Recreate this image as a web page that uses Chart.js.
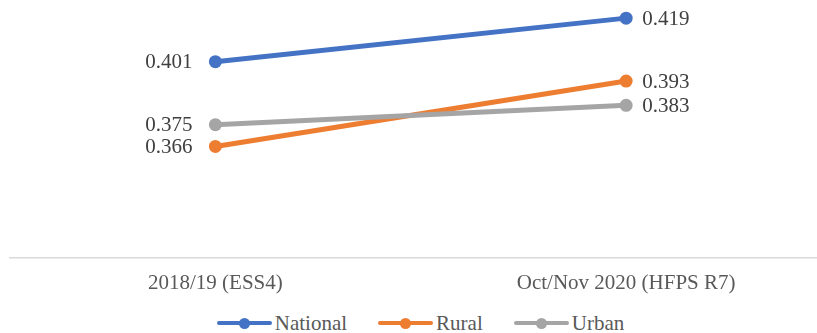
<!DOCTYPE html>
<html>
<head>
<meta charset="utf-8">
<script src="https://cdn.jsdelivr.net/npm/chart.js@4/dist/chart.umd.min.js"></script>
<style>
    html, body { margin: 0; padding: 0; background: #fff; overflow: hidden; }
    #wrap { position: absolute; left: -17px; top: -15px; width: 855px; height: 316px; }
    #legend {
        position: absolute; left: 0; top: 310px; width: 841px; height: 26px;
        display: flex; justify-content: center; align-items: center; gap: 31px;
        font-family: 'Liberation Serif', 'Times New Roman', serif;
        font-size: 21px; line-height: 26px; color: #595959;
    }
    .item { display: flex; align-items: center; }
    .swatch { position: relative; width: 55px; height: 4px; border-radius: 2px; margin-right: 3px; }
    .dot { position: absolute; left: 22px; top: -3.5px; width: 11px; height: 11px; border-radius: 50%; }
</style>
</head>
<body>
<div id="wrap"><canvas id="chart"></canvas></div>
<div id="legend"></div>
<script>
// rounds and headline values
const rounds = ["2018/19 (ESS4)", "Oct/Nov 2020 (HFPS R7)"];
const national = [0.401, 0.419];
const rural = [0.366, 0.393];
const urban = [0.375, 0.383];

const serif = "'Liberation Serif', 'Times New Roman', serif";
Chart.defaults.font.family = serif;

// value labels: left of the first point, right of the last one
const valueLabels = {
    id: "valueLabels",
    afterDatasetsDraw: function (chart) {
        let ctx = chart.ctx;
        ctx.save();
        ctx.font = "21px " + serif;
        ctx.fillStyle = "#404040";
        ctx.textBaseline = "middle";
        chart.data.datasets.forEach(function (ds, i) {
            let meta = chart.getDatasetMeta(i);
            meta.data.forEach(function (pt, j) {
                let txt = ds.data[j].toFixed(3);
                if (j === 0) {
                    ctx.textAlign = "right";
                    ctx.fillText(txt, pt.x - 23, pt.y + 1);
                } else {
                    ctx.textAlign = "left";
                    ctx.fillText(txt, pt.x + 16, pt.y + 1);
                }
            });
        });
        ctx.restore();
    }
};

// html legend built from the datasets (line with a dot, then the name)
const htmlLegend = {
    id: "htmlLegend",
    afterUpdate: function (chart) {
        let box = document.getElementById("legend");
        box.innerHTML = "";
        chart.data.datasets.forEach(function (ds) {
            let item = document.createElement("div");
            item.className = "item";
            let sw = document.createElement("span");
            sw.className = "swatch";
            sw.style.background = ds.borderColor;
            let dot = document.createElement("span");
            dot.className = "dot";
            dot.style.background = ds.borderColor;
            sw.appendChild(dot);
            let txt = document.createElement("span");
            txt.textContent = ds.label;
            item.appendChild(sw);
            item.appendChild(txt);
            box.appendChild(item);
        });
    }
};

// order: lower draws on top, so Urban sits over Rural where they cross
function series(label, data, color, order) {
    return {
        label: label,
        data: data,
        order: order,
        borderColor: color,
        backgroundColor: color,
        borderWidth: 5,
        pointRadius: 6.5,
        pointHoverRadius: 6.5,
        pointBorderWidth: 0,
        pointBackgroundColor: color,
        tension: 0
    };
}

new Chart(document.getElementById("chart"), {
    type: "line",
    data: {
        labels: rounds,
        datasets: [
            series("National", national, "#4472C4", 2),
            series("Rural", rural, "#ED7D31", 1),
            series("Urban", urban, "#A5A5A5", 0)
        ]
    },
    plugins: [valueLabels, htmlLegend],
    options: {
        responsive: true,
        maintainAspectRatio: false,
        animation: false,
        layout: { padding: { left: 27, right: 0, top: 0, bottom: 0 } },
        scales: {
            x: {
                offset: true,
                grid: { display: false },
                border: { display: true, color: "#D9D9D9", width: 1.5 },
                ticks: {
                    color: "#595959",
                    font: { family: serif, size: 21 },
                    padding: 5
                }
            },
            y: {
                display: false,
                min: 0.32,
                max: 0.43
            }
        },
        plugins: {
            legend: { display: false },
            tooltip: { enabled: false }
        }
    }
});
</script>
</body>
</html>
